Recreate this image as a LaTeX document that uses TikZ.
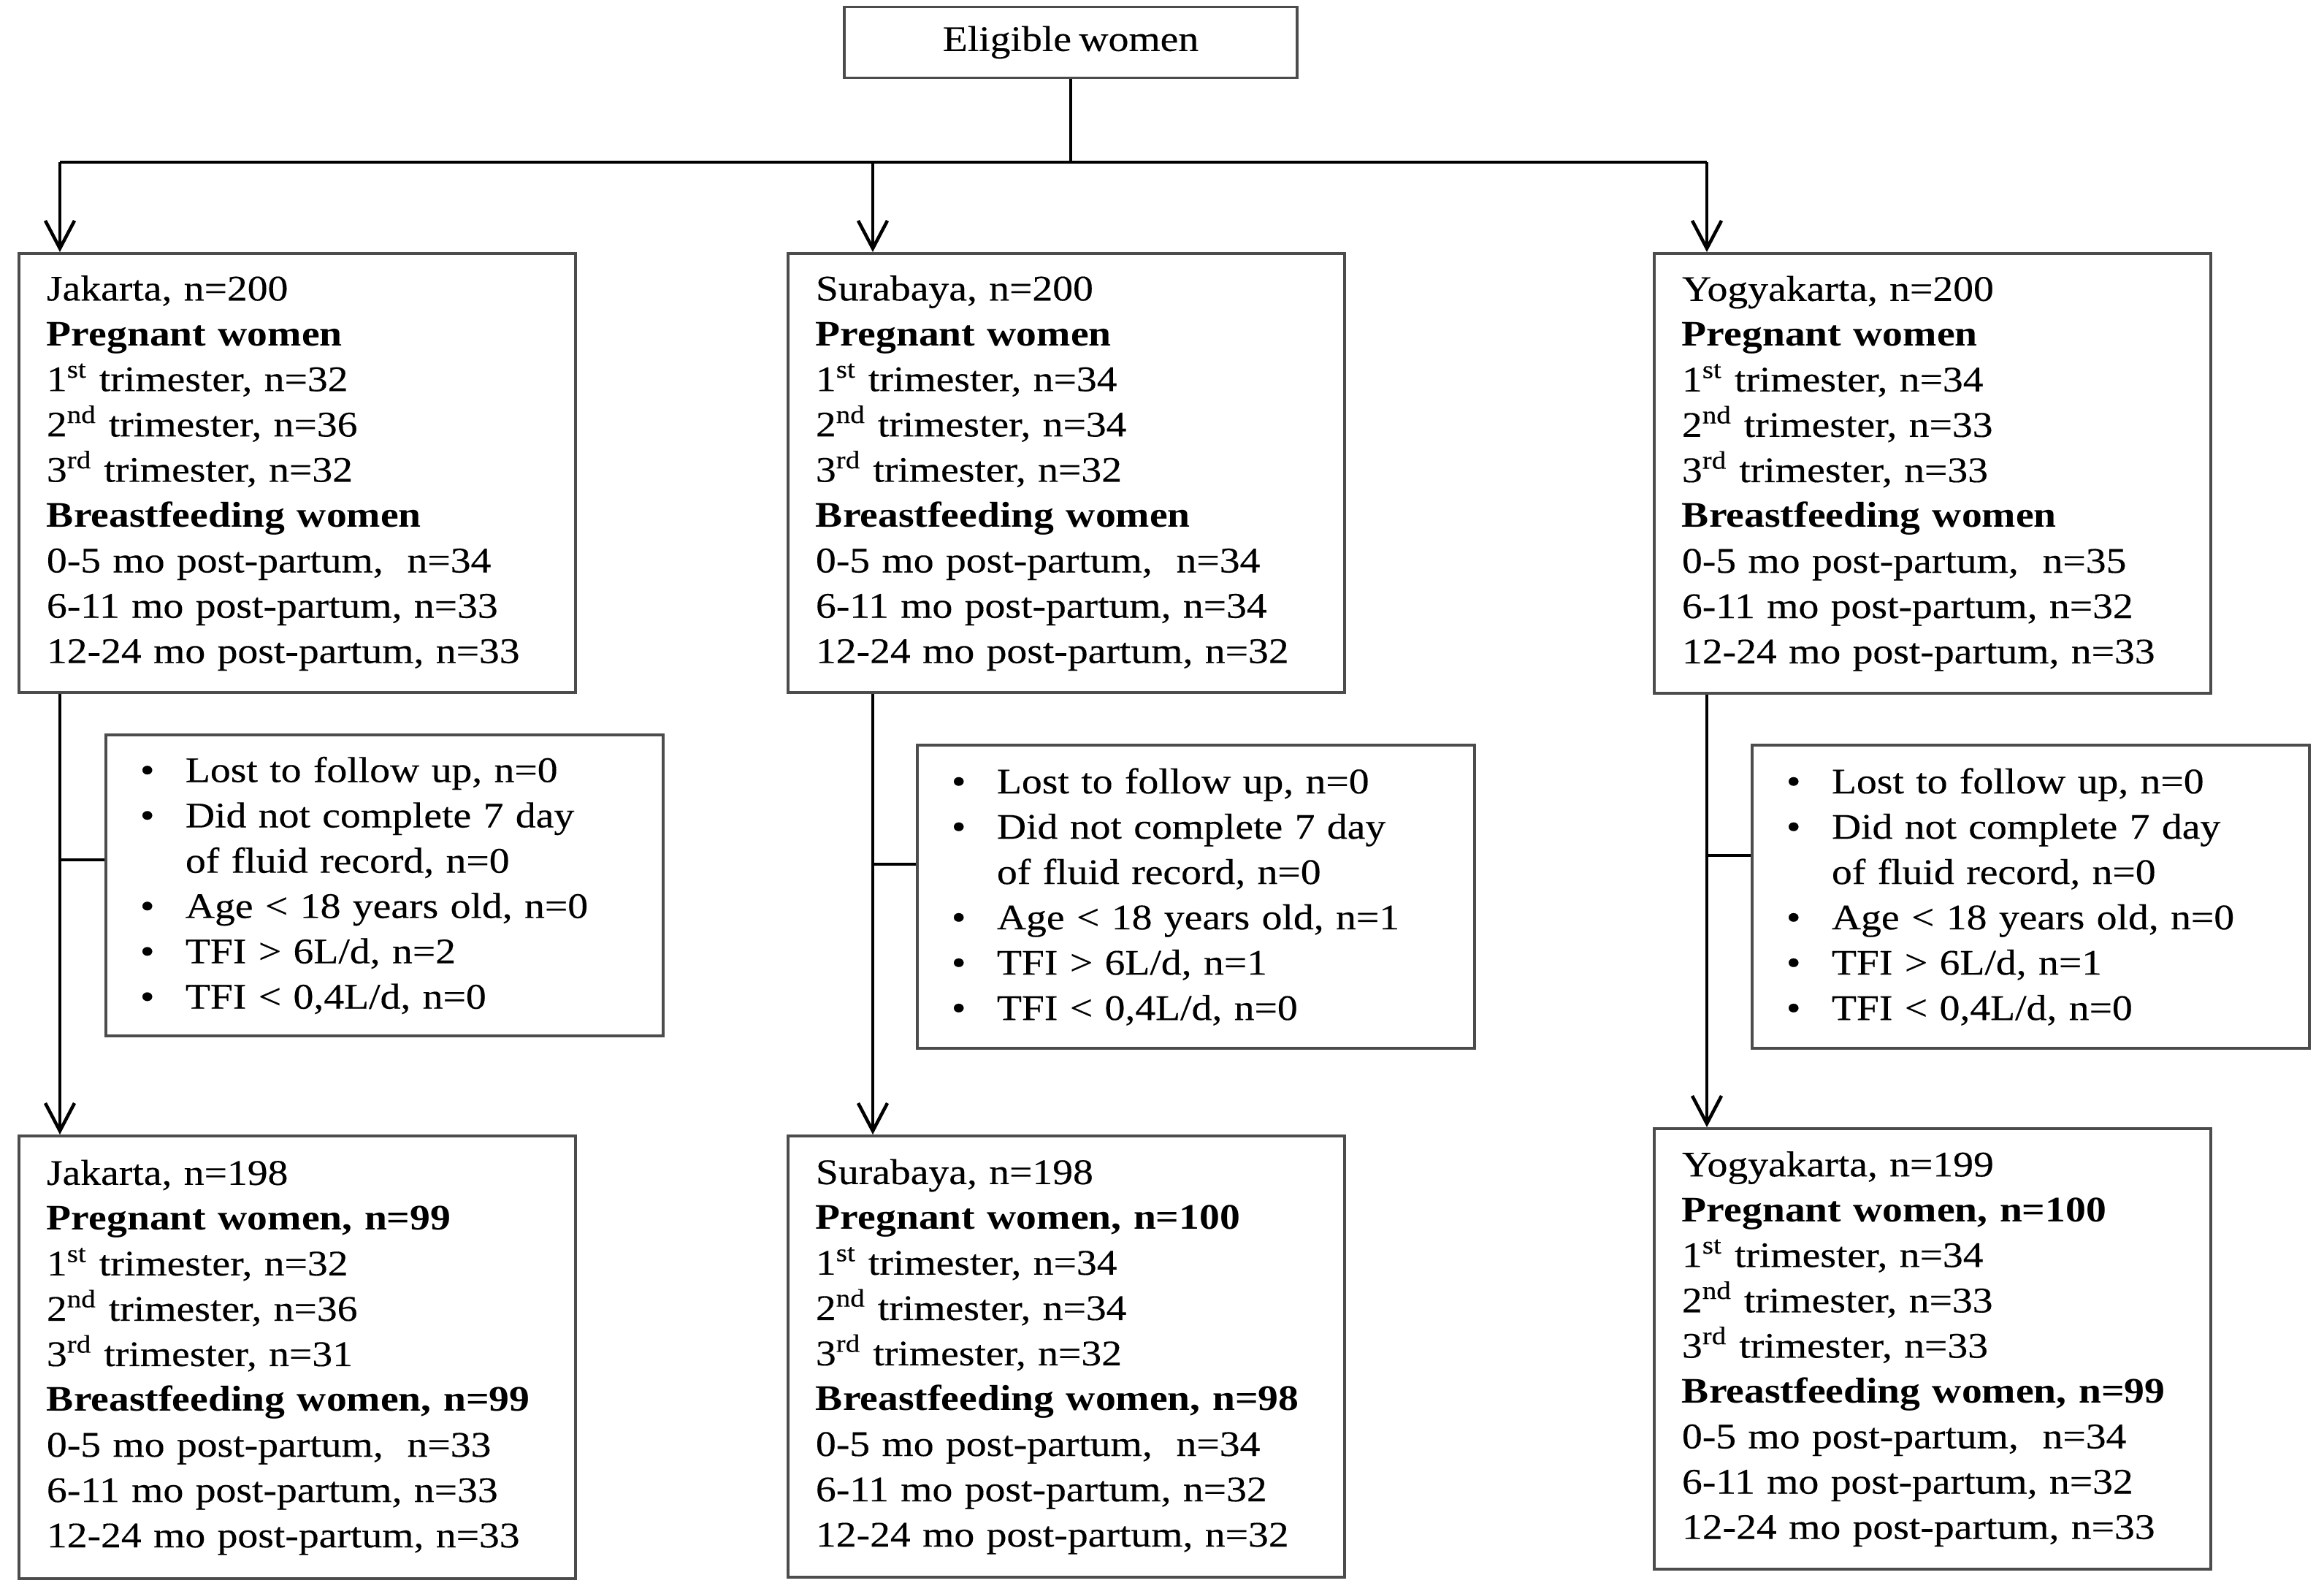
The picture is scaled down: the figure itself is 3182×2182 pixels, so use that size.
\documentclass[tikz,border=0pt]{standalone}
\usepackage{fontspec}
\setmainfont{Liberation Serif}[FakeStretch=1.13, WordSpace=0.75, UprightFeatures={FakeBold=0.3}]
\usetikzlibrary{arrows.meta}
\newcommand\fs{\fontsize{14pt}{17.64pt}\selectfont}
\newcommand\bul{\makebox[0.62cm][l]{\textbullet}}
\newcommand\cnt{\hspace*{0.62cm}}
\begin{document}
\begin{tikzpicture}[x=0.01cm,y=-0.01cm,
  every node/.style={font=\fs},
  boxs/.style={draw=black!70, line width=1.1pt, anchor=north west, align=left, inner ysep=0pt},
  city/.style={boxs, inner xsep=0.38cm, text width=6.86cm},
  excl/.style={boxs, inner xsep=0.47cm, text width=6.69cm},
  conn/.style={line width=1.3pt},
  arr/.style={conn, -{Straight Barb[length=0.38cm,width=0.4cm]}},
]
\useasboundingbox (0,0) rectangle (3182,2182);

% top
\node[boxs, anchor=center, align=center, minimum width=6.2cm, minimum height=0.97cm] (elig) at (1466,58) {Eligible women};

% first-level boxes
\node[city, minimum height=6.01cm] (jak1) at (24,345) {Jakarta, n=200\\
\textbf{Pregnant women}\\
1\textsuperscript{st} trimester, n=32\\
2\textsuperscript{nd} trimester, n=36\\
3\textsuperscript{rd} trimester, n=32\\
\textbf{Breastfeeding women}\\
0-5 mo post-partum,\ \ n=34\\
6-11 mo post-partum, n=33\\
12-24 mo post-partum, n=33};

\node[city, minimum height=6.01cm] (sur1) at (1077,345) {Surabaya, n=200\\
\textbf{Pregnant women}\\
1\textsuperscript{st} trimester, n=34\\
2\textsuperscript{nd} trimester, n=34\\
3\textsuperscript{rd} trimester, n=32\\
\textbf{Breastfeeding women}\\
0-5 mo post-partum,\ \ n=34\\
6-11 mo post-partum, n=34\\
12-24 mo post-partum, n=32};

\node[city, minimum height=6.02cm] (yog1) at (2263,345) {Yogyakarta, n=200\\
\textbf{Pregnant women}\\
1\textsuperscript{st} trimester, n=34\\
2\textsuperscript{nd} trimester, n=33\\
3\textsuperscript{rd} trimester, n=33\\
\textbf{Breastfeeding women}\\
0-5 mo post-partum,\ \ n=35\\
6-11 mo post-partum, n=32\\
12-24 mo post-partum, n=33};

% exclusion boxes
\node[excl, minimum height=4.12cm] (exJ) at (143,1004) {\bul Lost to follow up, n=0\\
\bul Did not complete 7 day\\
\cnt of fluid record, n=0\\
\bul Age {<} 18 years old, n=0\\
\bul TFI {>} 6L/d, n=2\\
\bul TFI {<} 0,4L/d, n=0};

\node[excl, minimum height=4.15cm] (exS) at (1254,1018) {\bul Lost to follow up, n=0\\
\bul Did not complete 7 day\\
\cnt of fluid record, n=0\\
\bul Age {<} 18 years old, n=1\\
\bul TFI {>} 6L/d, n=1\\
\bul TFI {<} 0,4L/d, n=0};

\node[excl, minimum height=4.15cm] (exY) at (2397,1018) {\bul Lost to follow up, n=0\\
\bul Did not complete 7 day\\
\cnt of fluid record, n=0\\
\bul Age {<} 18 years old, n=0\\
\bul TFI {>} 6L/d, n=1\\
\bul TFI {<} 0,4L/d, n=0};

% final boxes
\node[city, minimum height=6.06cm] (jak2) at (24,1553) {Jakarta, n=198\\
\textbf{Pregnant women, n=99}\\
1\textsuperscript{st} trimester, n=32\\
2\textsuperscript{nd} trimester, n=36\\
3\textsuperscript{rd} trimester, n=31\\
\textbf{Breastfeeding women, n=99}\\
0-5 mo post-partum,\ \ n=33\\
6-11 mo post-partum, n=33\\
12-24 mo post-partum, n=33};

\node[city, minimum height=6.04cm] (sur2) at (1077,1553) {Surabaya, n=198\\
\textbf{Pregnant women, n=100}\\
1\textsuperscript{st} trimester, n=34\\
2\textsuperscript{nd} trimester, n=34\\
3\textsuperscript{rd} trimester, n=32\\
\textbf{Breastfeeding women, n=98}\\
0-5 mo post-partum,\ \ n=34\\
6-11 mo post-partum, n=32\\
12-24 mo post-partum, n=32};

\node[city, minimum height=6.03cm] (yog2) at (2263,1543) {Yogyakarta, n=199\\
\textbf{Pregnant women, n=100}\\
1\textsuperscript{st} trimester, n=34\\
2\textsuperscript{nd} trimester, n=33\\
3\textsuperscript{rd} trimester, n=33\\
\textbf{Breastfeeding women, n=99}\\
0-5 mo post-partum,\ \ n=34\\
6-11 mo post-partum, n=32\\
12-24 mo post-partum, n=33};

% connector coordinates
\coordinate (hL) at (82,222);
\coordinate (hM) at (1195,222);
\coordinate (hR) at (2337,222);
\coordinate (tJ) at (143,1177);
\coordinate (tS) at (1254,1183);
\coordinate (tY) at (2397,1171);

\draw[conn] (elig.south) -- (elig.south |- hL);
\draw[conn] (hL) -- (hR);
\draw[arr] (hL) -- (hL |- jak1.north);
\draw[arr] (hM) -- (hM |- sur1.north);
\draw[arr] (hR) -- (hR |- yog1.north);

\draw[arr] (hL |- jak1.south) -- (hL |- jak2.north);
\draw[arr] (hM |- sur1.south) -- (hM |- sur2.north);
\draw[arr] (hR |- yog1.south) -- (hR |- yog2.north);

\draw[conn] (tJ -| hL) -- (tJ);
\draw[conn] (tS -| hM) -- (tS);
\draw[conn] (tY -| hR) -- (tY);
\end{tikzpicture}
\end{document}
